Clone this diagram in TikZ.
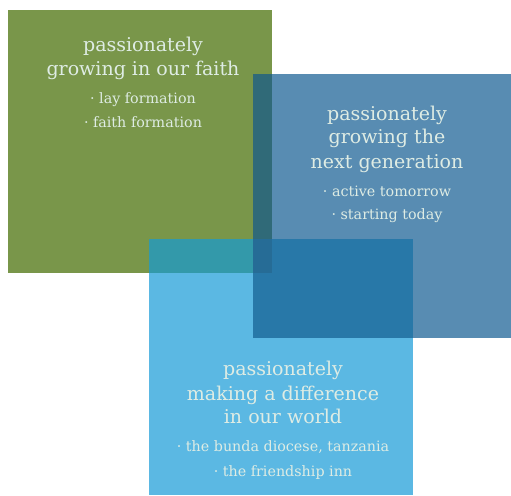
\documentclass[tikz,border=0pt]{standalone}
\usepackage{fontspec}
\setmainfont{DejaVu Serif}
\definecolor{cgreen}{RGB}{121,150,74}
\definecolor{cblue}{RGB}{88,140,178}
\definecolor{clight}{RGB}{91,184,227}
\definecolor{cgb}{RGB}{48,106,120}
\definecolor{cgl}{RGB}{51,153,170}
\definecolor{cbl}{RGB}{40,120,168}
\definecolor{call}{RGB}{38,108,150}
\definecolor{ctext}{RGB}{222,236,228}
\begin{document}
\begin{tikzpicture}[x=1pt,y=-1pt,
  title/.style={anchor=base,inner sep=0pt,text=ctext,font=\fontsize{19}{21}\selectfont},
  bullet/.style={anchor=base,inner sep=0pt,text=ctext,font=\fontsize{14.3}{16}\selectfont}]
\useasboundingbox (0,0) rectangle (511,495);
% squares
\fill[cgreen] (8,10) rectangle (272,273);
\fill[cblue] (253,74) rectangle (511,338);
\fill[clight] (149,239) rectangle (413,495);
% overlaps
\fill[cgb] (253,74) rectangle (272,273);
\fill[cgl] (149,239) rectangle (272,273);
\fill[cbl] (253,239) rectangle (413,338);
\fill[call] (253,239) rectangle (272,273);
% green text
\node[title] (g1) at (143,52) {passionately};
\node[title] (g2) at (143,75) {growing in our faith};
\node[bullet] (g3) at (143,103) {· lay formation};
\node[bullet] (g4) at (143,127) {· faith formation};
% blue text
\node[title] (b1) at (387,120) {passionately};
\node[title] (b2) at (387,143) {growing the};
\node[title] (b3) at (387,168) {next generation};
\node[bullet] (b4) at (387,196) {· active tomorrow};
\node[bullet] (b5) at (387,219) {· starting today};
% light blue text
\node[title] (l1) at (283,375) {passionately};
\node[title] (l2) at (283,400) {making a difference};
\node[title] (l3) at (283,423) {in our world};
\node[bullet] (l4) at (283,451) {· the bunda diocese, tanzania};
\node[bullet] (l5) at (283,476) {· the friendship inn};
\end{tikzpicture}
\end{document}
